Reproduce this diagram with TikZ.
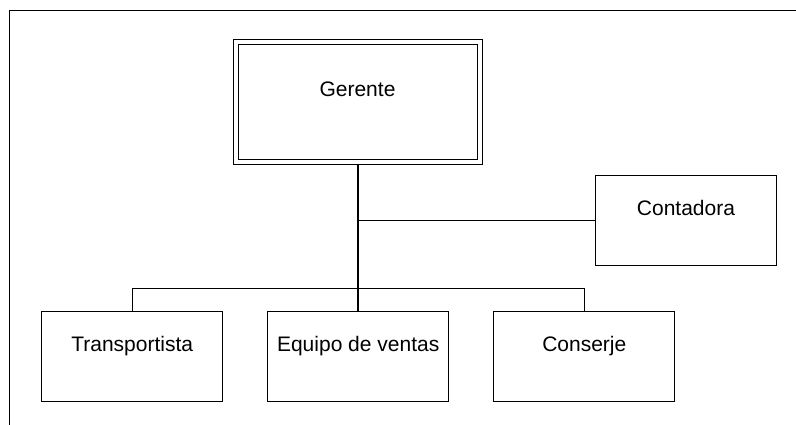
\documentclass[tikz,border=0pt]{standalone}
\usepackage{fontspec}
\setmainfont{Liberation Sans}
\begin{document}
\begin{tikzpicture}[x=1pt,y=-1pt,
  box/.style={draw=black,line width=1pt,rectangle,inner sep=0pt,minimum width=181.3pt,minimum height=90.7pt},
  lbl/.style={anchor=base,inner sep=0pt,font=\fontsize{21}{25}\selectfont},
  conn/.style={draw=black,line width=1pt},
  trunk/.style={draw=black,line width=1.6pt}]
\useasboundingbox (0,0) rectangle (796,425);
% frame
\coordinate (fbl) at (9.5,425);
\coordinate (ftl) at (9.5,11);
\coordinate (ftr) at (796,11);
\draw[line width=1pt] (fbl) -- (ftl) -- (ftr);
% Gerente (double border)
\node[box,minimum width=249.4pt,minimum height=124.3pt] (ger) at (358,102.15) {};
\node[box,minimum width=239.4pt,minimum height=114.3pt] (gerin) at (ger.center) {};
\node[lbl] (tger) at (357.5,96.5) {Gerente};
% Contadora
\node[box] (con) at (686,220.5) {};
\node[lbl] (tcon) at (686,215.5) {Contadora};
% bottom row
\node[box] (tra) at (132.2,356.35) {};
\node[box] (equ) at (358.2,356.35) {};
\node[box] (cns) at (584.3,356.35) {};
\node[lbl] (ttra) at (132.2,351) {Transportista};
\node[lbl] (tequ) at (358.2,351) {Equipo de ventas};
\node[lbl] (tcns) at (584.3,351) {Conserje};
% connectors
\coordinate (bus) at (358,288.3);
\draw[trunk] (ger.south) -- (ger.south |- equ.north);
\draw[conn] (ger.south |- con.west) -- (con.west);
\draw[conn] (tra.north) -- (tra.north |- bus) -- (cns.north |- bus) -- (cns.north);
\end{tikzpicture}
\end{document}
